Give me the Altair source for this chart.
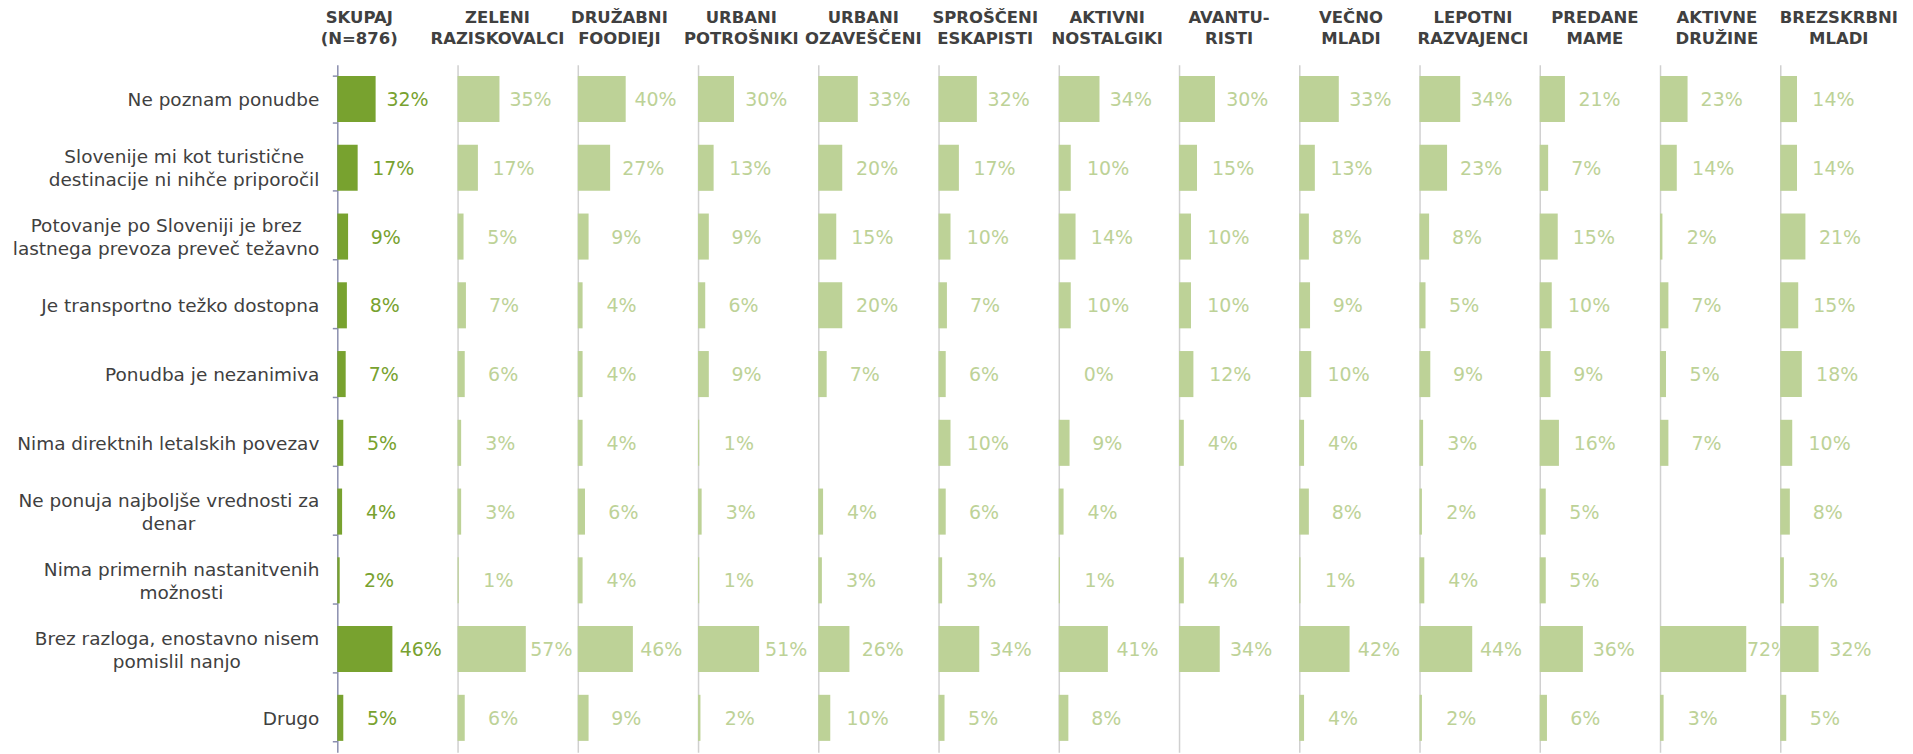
import altair as alt
import pandas as pd

# ---------------- data ----------------
categories = [
    "Ne poznam ponudbe",
    "Slovenije mi kot turistične\ndestinacije ni nihče priporočil",
    "Potovanje po Sloveniji je brez\nlastnega prevoza preveč težavno",
    "Je transportno težko dostopna",
    "Ponudba je nezanimiva",
    "Nima direktnih letalskih povezav",
    "Ne ponuja najboljše vrednosti za\ndenar",
    "Nima primernih nastanitvenih\nmožnosti",
    "Brez razloga, enostavno nisem\npomislil nanjo",
    "Drugo",
]

segments = [
    "SKUPAJ\n(N=876)", "ZELENI\nRAZISKOVALCI", "DRUŽABNI\nFOODIEJI",
    "URBANI\nPOTROŠNIKI", "URBANI\nOZAVEŠČENI", "SPROŠČENI\nESKAPISTI",
    "AKTIVNI\nNOSTALGIKI", "AVANTU-\nRISTI", "VEČNO\nMLADI",
    "LEPOTNI\nRAZVAJENCI", "PREDANE\nMAME", "AKTIVNE\nDRUŽINE",
    "BREZSKRBNI\nMLADI",
]

skupaj = [32, 17, 9, 8, 7, 5, 4, 2, 46, 5]
zeleni_raziskovalci = [35, 17, 5, 7, 6, 3, 3, 1, 57, 6]
druzabni_foodieji = [40, 27, 9, 4, 4, 4, 6, 4, 46, 9]
urbani_potrosniki = [30, 13, 9, 6, 9, 1, 3, 1, 51, 2]
urbani_ozavesceni = [33, 20, 15, 20, 7, None, 4, 3, 26, 10]
sprosceni_eskapisti = [32, 17, 10, 7, 6, 10, 6, 3, 34, 5]
aktivni_nostalgiki = [34, 10, 14, 10, 0, 9, 4, 1, 41, 8]
avanturisti = [30, 15, 10, 10, 12, 4, None, 4, 34, None]
vecno_mladi = [33, 13, 8, 9, 10, 4, 8, 1, 42, 4]
lepotni_razvajenci = [34, 23, 8, 5, 9, 3, 2, 4, 44, 2]
predane_mame = [21, 7, 15, 10, 9, 16, 5, 5, 36, 6]
aktivne_druzine = [23, 14, 2, 7, 5, 7, None, None, 72, 3]
brezskrbni_mladi = [14, 14, 21, 15, 18, 10, 8, 3, 32, 5]

series = [
    skupaj, zeleni_raziskovalci, druzabni_foodieji, urbani_potrosniki,
    urbani_ozavesceni, sprosceni_eskapisti, aktivni_nostalgiki, avanturisti,
    vecno_mladi, lepotni_razvajenci, predane_mame, aktivne_druzine,
    brezskrbni_mladi,
]

# ---------------- style ----------------
FONT = "DejaVu Sans"
DARK = "#78A22F"
LIGHT = "#BDD297"
TEXT = "#404040"
AXIS_MAIN = "#8A8EAE"
AXIS_LIGHT = "#D0D0D0"
LABEL_SIZE = 18.5
PCT_SIZE = 19
LINE_H = 23
GAP = 18
PANEL_W = 120
PANEL_H = 689

# approximate DejaVu Sans advance widths (em) to centre two-line labels
W = {" ": .318, "a": .613, "b": .635, "c": .550, "d": .635, "e": .615, "f": .352,
     "g": .635, "h": .634, "i": .278, "j": .278, "k": .579, "l": .278, "m": .974,
     "n": .634, "o": .612, "p": .635, "q": .635, "r": .411, "s": .521, "t": .392,
     "u": .634, "v": .592, "w": .818, "x": .592, "y": .592, "z": .525, "č": .550,
     "š": .521, "ž": .525, ",": .318, "S": .635, "P": .603, "N": .748, "B": .686,
     "D": .770, "J": .295}


def text_w(s):
    return sum(W.get(ch, .6) for ch in s) * LABEL_SIZE


rows = []
for c in categories:
    lines = c.split("\n")
    wmax = max(text_w(l) for l in lines)
    for k, l in enumerate(lines):
        rows.append({"cat": c, "line": l, "k": k, "n": len(lines),
                     "lx": -(GAP + (wmax - text_w(l)) / 2)})
label_df = pd.DataFrame(rows)

ydom = alt.Scale(domain=categories, paddingInner=0.33, paddingOuter=0.165)
xdom = alt.Scale(domain=[0, 100])

charts = []
for i, (seg, vals) in enumerate(zip(segments, series)):
    d = pd.DataFrame({"cat": categories, "value": vals}).dropna()
    d["label"] = d["value"].astype(int).astype(str) + "%"
    first = i == 0
    col = DARK if first else LIGHT
    if first:
        yaxis = alt.Axis(labels=False, title=None, ticks=True, tickBand="extent",
                         tickSize=5, tickColor=AXIS_MAIN, domainColor=AXIS_MAIN,
                         domainWidth=1.5, tickWidth=1.5, grid=False)
    else:
        yaxis = alt.Axis(labels=False, title=None, ticks=False,
                         domainColor=AXIS_LIGHT, domainWidth=1.5, grid=False)
    y = alt.Y("cat:N", sort=categories, scale=ydom, axis=yaxis)
    base = alt.Chart(d)
    bars = base.mark_bar(color=col).encode(
        x=alt.X("value:Q", scale=xdom, axis=None), y=y)
    txt = base.transform_calculate(lx="datum.value*0.79+33.3").mark_text(
        align="center", baseline="middle", font=FONT, fontSize=PCT_SIZE,
        color=col, clip=True, dy=1).encode(
        x=alt.X("lx:Q", scale=xdom, axis=None), y=y, text="label:N")
    layers = [bars, txt]
    if first:
        lb = alt.Chart(label_df)
        for flt, dy in [("datum.n == 1", 0), ("datum.n == 2 && datum.k == 0", -LINE_H / 2),
                        ("datum.n == 2 && datum.k == 1", LINE_H / 2)]:
            layers.append(lb.transform_filter(flt).mark_text(
                align="right", baseline="middle", font=FONT, fontSize=LABEL_SIZE,
                color=TEXT, dy=dy + 1).encode(
                x=alt.X("lx:Q", scale=None, axis=None), y=y, text="line:N"))
    if first:
        hdx = 22 - PANEL_W / 2
    else:
        hdx = 49.3 + 1.7 * (i - 6.5) - PANEL_W / 2
    ch = alt.layer(*layers).resolve_scale(x="independent").properties(
        width=PANEL_W, height=PANEL_H,
        view=alt.ViewConfig(stroke=None),
        title=alt.TitleParams(text=seg.split("\n"), font=FONT, fontSize=16.5,
                              fontWeight="bold", color=TEXT, anchor="middle",
                              dx=hdx, offset=17, lineHeight=21))
    charts.append(ch)

chart = alt.hconcat(*charts, spacing=0.5, bounds="flush").properties(
    padding={"left": 4, "top": 1, "right": 5, "bottom": 5}
).configure(font=FONT).configure_view(stroke=None)

chart.save("out.html", embed_options={"renderer": "svg", "actions": False})
